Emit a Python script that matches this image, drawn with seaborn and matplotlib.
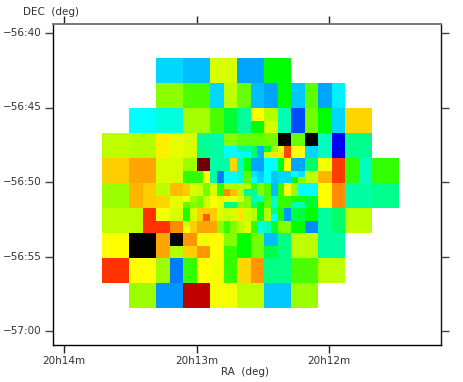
import numpy as np
import matplotlib
matplotlib.use('Agg')
import matplotlib.pyplot as plt
import seaborn as sns
from matplotlib.colors import LinearSegmentedColormap

N = np.nan

# half cell grid (13.5 x 12.5 px), 22 cols, 20 rows
half_rows = [
    [N, N, N, N, 17, 17, 15, 15, 57, 57, 13, 13, 40, 40, N, N, N, N, N, N, N, N],
    [N, N, N, N, 17, 17, 15, 15, 57, 57, 13, 13, 40, 40, N, N, N, N, N, N, N, N],
    [N, N, N, N, 51, 51, 46, 46, 17, 55, 48, 15, 13, 40, 16, 47, 13, 19, N, N, N, N],
    [N, N, N, N, 51, 51, 46, 46, 17, 55, 48, 15, 13, 40, 16, 47, 13, 19, N, N, N, N],
    [N, N, 20, 20, 23, 23, 53, 53, 46, 36, 28, 60, 54, 26, 6, 49, 40, 17, 63, 63, N, N],
    [N, N, 20, 20, 23, 23, 53, 53, 46, 36, 28, 40, 57, 26, 6, 49, 40, 17, 63, 63, N, N],
    [55, 55, 54, 54, 61, 58, N, N, N, N, N, N, N, N, N, N, 25, 0, 29, 29, N, N],
    [55, 55, 54, 54, 61, 58, N, N, N, N, N, N, N, N, N, N, 25, 0, 29, 29, N, N],
    [64, 64, 67, 67, 57, 57, N, N, N, N, N, N, N, N, N, N, 59, 75, 44, 25, 44, 44],
    [64, 64, 67, 67, 57, 57, N, N, N, N, N, N, N, N, N, N, 66, 75, 44, 25, 44, 44],
    [52, 52, 66, 64, 55, 65, N, N, N, N, N, N, N, N, N, N, 60, 69, 27, 27, 29, 29],
    [52, 52, 66, 64, 63, 58, N, N, N, N, N, N, N, N, N, N, 60, 69, 27, 27, 29, 29],
    [55, 55, 55, 76, 59, 57, N, N, N, N, N, N, N, N, N, N, 28, 32, 55, 55, N, N],
    [55, 55, 55, 76, 76, 69, N, N, N, N, N, N, N, N, N, N, 28, 32, 55, 55, N, N],
    [60, 60, 110, 110, 67, 110, 68, 59, 60, 50, 40, 49, 15, 30, 55, 55, 27, 27, N, N, N, N],
    [60, 60, 110, 110, 67, 54, 64, 68, 60, 44, 40, 49, 34, 30, 55, 55, 27, 27, N, N, N, N],
    [76, 76, 60, 60, 52, 10, 44, 60, 59, 44, 63, 68, 30, 30, 46, 46, 55, 55, N, N, N, N],
    [76, 76, 60, 60, 52, 10, 44, 60, 59, 44, 63, 68, 30, 30, 46, 46, 55, 55, N, N, N, N],
    [N, N, 52, 52, 12, 12, 90, 90, 59, 59, 55, 55, 16, 16, 52, 52, N, N, N, N, N, N],
    [N, N, 52, 52, 12, 12, 90, 90, 59, 59, 55, 55, 16, 16, 52, 52, N, N, N, N, N, N],
]

# central part at quarter cell (6.75 x 6.25 px), 20 cols, 16 rows
fine_rows = [
    [57, 57, 28, 28, 27, 27, 50, 50, 48, 48, 48, 48, 49, 49, 110, 110, 48, 48, 110, 110],
    [57, 57, 28, 28, 27, 27, 50, 50, 48, 48, 48, 48, 49, 49, 110, 110, 48, 48, 110, 110],
    [57, 57, 29, 29, 27, 27, 20, 20, 27, 27, 32, 14, 36, 52, 58, 74, 60, 60, 17, 17],
    [57, 57, 29, 29, 27, 27, 20, 20, 20, 20, 32, 14, 56, 62, 62, 74, 60, 60, 17, 17],
    [52, 52, 98, 98, 27, 27, 27, 63, 25, 38, 13, 13, 20, 20, 38, 60, 13, 13, 32, 32],
    [52, 52, 98, 98, 27, 27, 27, 63, 25, 38, 13, 13, 20, 20, 38, 60, 13, 13, 32, 32],
    [44, 44, 44, 60, 27, 10, 20, 20, 24, 47, 18, 16, 20, 16, 17, 17, 20, 18, 55, 55],
    [44, 44, 44, 60, 27, 10, 20, 20, 24, 47, 20, 17, 20, 16, 17, 17, 40, 52, 55, 55],
    [64, 57, 56, 49, 57, 44, 54, 54, 54, 54, 44, 50, 46, 15, 44, 60, 52, 20, 20, 20],
    [64, 57, 56, 49, 57, 44, 69, 65, 54, 28, 28, 50, 46, 15, 44, 60, 52, 20, 20, 20],
    [60, 52, 49, 56, 60, 58, 59, 59, 57, 50, 25, 24, 47, 24, 44, 44, 42, 42, 36, 36],
    [47, 50, 49, 56, 60, 58, 30, 30, 51, 50, 30, 40, 47, 24, 44, 44, 25, 25, 36, 36],
    [42, 57, 64, 64, 64, 57, 56, 57, 62, 56, 54, 38, 54, 30, 42, 12, 35, 35, 40, 40],
    [42, 57, 64, 73, 64, 57, 56, 57, 62, 56, 54, 38, 54, 20, 42, 12, 35, 35, 40, 40],
    [56, 64, 67, 67, 67, 51, 44, 50, 55, 57, 44, 22, 25, 36, 50, 50, 40, 40, 11, 11],
    [60, 64, 67, 67, 67, 51, 44, 50, 55, 57, 44, 22, 25, 36, 50, 50, 40, 40, 11, 11],
]

ra_ticks = [14, 13, 12]
ra_labels = ['20h14m', '20h13m', '20h12m']
dec_ticks = [40, 45, 50, 55, 60]
dec_labels = ['\u221256:40', '\u221256:45', '\u221256:50', '\u221256:55', '\u221257:00']

# blow both grids up to quarter cells
grid = np.kron(np.array(half_rows), np.ones((2, 2)))
grid[12:28, 12:32] = np.array(fine_rows)

colors = [(0, '#0000ff'), (0.2, '#00ffff'), (0.4, '#00ff00'), (0.6, '#ffff00'),
          (0.8, '#ff0000'), (0.9, '#c00000'), (1, '#600000')]
cmap = LinearSegmentedColormap.from_list('map', colors, N=256)
cmap.set_over('black')
cmap.set_bad('white')

sns.set_style('white')
fig = plt.figure(figsize=(4.63, 3.82), dpi=100)
ax = fig.add_axes([53 / 463, 1 - 345 / 382, 388 / 463, 321 / 382])
sns.heatmap(grid, ax=ax, cmap=cmap, vmin=0, vmax=100, cbar=False, square=False)

# px per quarter cell: 6.75 x, 6.25 y, grid starts at px (102, 58)
ax.set_xlim((53 - 102) / 6.75, (441 - 102) / 6.75)
ax.set_ylim((345 - 58) / 6.25, (24 - 58) / 6.25)

x_pos = [(64 + (14 - r) * 132.5 - 102) / 6.75 for r in ra_ticks]
y_pos = [(33 + (d - 40) / 5 * 74.5 - 58) / 6.25 for d in dec_ticks]
ax.set_xticks(x_pos)
ax.set_xticklabels(ra_labels, rotation=0, fontsize=7.5, color='#333333')
ax.set_yticks(y_pos)
ax.set_yticklabels(dec_labels, rotation=0, fontsize=7.5, color='#333333')
ax.tick_params(axis='x', bottom=True, top=True, length=6, width=1, color='#222222', pad=2, direction='out')
ax.tick_params(axis='y', left=True, right=True, length=6, width=1, color='#444444', pad=2, direction='out')

for side, spine in ax.spines.items():
    spine.set_visible(True)
    spine.set_color('black')
    spine.set_linewidth(1)
ax.spines['top'].set_color('#777777')
ax.spines['top'].set_linewidth(1.4)
ax.spines['right'].set_color('#111111')

fig.text(245 / 463, 1 - 372 / 382, 'RA  (deg)', ha='center', va='center', fontsize=7.5, color='#333333')
fig.text(51 / 463, 1 - 12 / 382, 'DEC  (deg)', ha='center', va='center', fontsize=7.5, color='#333333')

fig.savefig('out.png', dpi=100)
